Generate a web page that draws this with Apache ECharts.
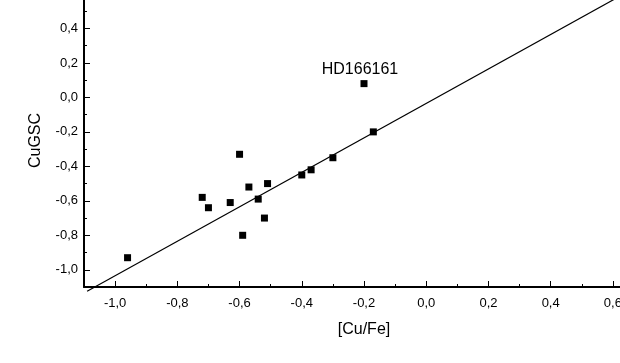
<!DOCTYPE html>
<html>
    <head>
        <meta charset="utf-8">
        <script src="https://cdn.jsdelivr.net/npm/echarts@6/dist/echarts.min.js"></script>
    </head>
    <body>
        <style>
            html, body {
                width: 620px;
                height: 363px;
                margin: 0;
                overflow: hidden;
                background: #fff;
            }
            /* the reference is a crop: the plot runs past the top and right edges */
            #main {
                position: absolute;
                left: 0;
                top: -6px;
                width: 660px;
                height: 369px;
            }
        </style>
        <div id="main"></div>

        <script>
            // [Cu/Fe] vs CuGSC
            var cuFe  = [-0.96, -0.72, -0.70, -0.63, -0.60, -0.57, -0.54, -0.51, -0.52, -0.59, -0.40, -0.37, -0.30, -0.20, -0.17];
            var cuGSC = [-0.93, -0.58, -0.64, -0.61, -0.33, -0.52, -0.59, -0.50, -0.70, -0.80, -0.45, -0.42, -0.35,  0.08, -0.20];

            // the one labelled star
            var noteIndex = 13;
            var noteText = 'HD166161';

            // fitted line, two ends
            var fitX = [-1.09, 0.70];
            var fitY = [-1.125, 0.665];

            var xMajor = [-1.0, -0.8, -0.6, -0.4, -0.2, 0.0, 0.2, 0.4, 0.6];
            var xMinor = [-0.9, -0.7, -0.5, -0.3, -0.1, 0.1, 0.3, 0.5];
            var yMajor = [-1.0, -0.8, -0.6, -0.4, -0.2, 0.0, 0.2, 0.4];
            var yMinor = [-0.9, -0.7, -0.5, -0.3, -0.1, 0.1, 0.3, 0.5];

            var FONT = '"Liberation Sans", Arial, sans-serif';

            function fmt(v) {
                var r = Math.round(v * 10) / 10;
                if (r === 0) r = 0;
                return r.toFixed(1).replace('.', ',');
            }

            var points = cuFe.map(function (x, i) {
                var item = {value: [x, cuGSC[i]]};
                if (i === noteIndex) {
                    item.label = {
                        show: true,
                        formatter: noteText,
                        position: 'top',
                        distance: 3,
                        offset: [-4, 0],
                        color: '#000',
                        fontSize: 16,
                        fontFamily: FONT
                    };
                }
                return item;
            });

            var lineData = fitX.map(function (x, i) { return [x, fitY[i]]; });

            function mainAxis(min, max, major, name, extra) {
                return Object.assign({
                    type: 'value',
                    min: min,
                    max: max,
                    name: name,
                    nameLocation: 'middle',
                    nameTextStyle: {color: '#000', fontSize: 16, fontFamily: FONT},
                    axisLine: {onZero: false, lineStyle: {color: '#000', width: 2}},
                    axisTick: {inside: true, length: 6, customValues: major, lineStyle: {color: '#000', width: 1}},
                    splitLine: {show: false}
                }, extra);
            }

            function minorAxis(min, max, minor, pos) {
                return {
                    type: 'value',
                    min: min,
                    max: max,
                    position: pos,
                    axisLine: {show: false, onZero: false},
                    axisTick: {inside: true, length: 3, customValues: minor, lineStyle: {color: '#000', width: 1}},
                    axisLabel: {show: false},
                    splitLine: {show: false}
                };
            }

            var chart = echarts.init(document.getElementById('main'));

            chart.setOption({
                animation: false,
                backgroundColor: '#fff',
                grid: {
                    left: 84,
                    right: 16,
                    top: 0,
                    bottom: 76,
                    outerBoundsMode: 'none'
                },
                xAxis: [
                    mainAxis(-1.1, 0.7, xMajor, '[Cu/Fe]', {position: 'bottom', nameGap: 35,
                        axisLabel: {customValues: xMajor, formatter: fmt, color: '#000', fontSize: 13, fontFamily: FONT, margin: 10}}),
                    minorAxis(-1.1, 0.7, xMinor, 'bottom')
                ],
                yAxis: [
                    mainAxis(-1.1, 0.6, yMajor, 'CuGSC', {position: 'left', nameGap: 40,
                        axisLabel: {customValues: yMajor, formatter: fmt, color: '#000', fontSize: 13, fontFamily: FONT, margin: 6}}),
                    minorAxis(-1.1, 0.6, yMinor, 'left')
                ],
                series: [{
                    type: 'line',
                    data: lineData,
                    showSymbol: false,
                    clip: false,
                    lineStyle: {color: '#000', width: 1.2},
                    silent: true
                }, {
                    type: 'scatter',
                    data: points,
                    symbol: 'rect',
                    symbolSize: 7,
                    itemStyle: {color: '#000', opacity: 1}
                }]
            });
        </script>
    </body>
</html>
